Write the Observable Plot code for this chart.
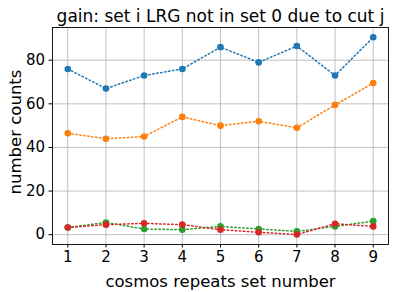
<!DOCTYPE html>
<html>
<head>
<meta charset="utf-8">
<script src="https://cdn.jsdelivr.net/npm/d3@7"></script>
<script src="https://cdn.jsdelivr.net/npm/@observablehq/plot@0.6"></script>
<style>
  html, body { margin: 0; padding: 0; background: #fff; }
  #chart { width: 394px; height: 292px; }
  svg { font-family: "DejaVu Sans", sans-serif; }
</style>
</head>
<body>
<div id="chart"></div>
<script>
const sets = [1, 2, 3, 4, 5, 6, 7, 8, 9];
const yTicks = [0, 20, 40, 60, 80];
const seriesNames = ["cut 1", "cut 2", "cut 3", "cut 4"];
const seriesColors = ["#1f77b4", "#ff7f0e", "#2ca02c", "#d62728"];
const blueValues = [76, 67, 73, 76, 86, 79, 86.5, 73, 90.5];
const orangeValues = [46.5, 44, 45, 54, 50, 52, 49, 59.5, 69.5];
const greenValues = [3.3, 5.6, 2.6, 2.3, 3.8, 2.6, 1.5, 3.8, 6.2];
const redValues = [3.3, 4.6, 5.2, 4.6, 2.3, 1.1, 0.1, 5, 3.8];
const titleText = "gain: set i LRG not in set 0 due to cut j";
const xLabel = "cosmos repeats set number";
const yLabel = "number counts";

const allValues = [blueValues, orangeValues, greenValues, redValues];
const data = allValues.flatMap((vals, k) =>
  vals.map((v, i) => ({ set: sets[i], value: v, series: seriesNames[k] }))
);

const chart = Plot.plot({
  width: 394,
  height: 292,
  marginLeft: 52,
  marginRight: 6,
  marginTop: 27,
  marginBottom: 48,
  style: { fontFamily: "DejaVu Sans, sans-serif", background: "#fff" },
  x: { domain: [0.6, 9.4] },
  y: { domain: [-4.5, 95] },
  color: { domain: seriesNames, range: seriesColors },
  marks: [
    Plot.gridX(sets, { stroke: "#b0b0b0", strokeOpacity: 1, strokeWidth: 0.8 }),
    Plot.gridY(yTicks, { stroke: "#b0b0b0", strokeOpacity: 1, strokeWidth: 0.8 }),
    Plot.axisX(sets, { tickSize: 3.5, tickPadding: 3, fontSize: 15, label: null, stroke: "#000", color: "#000" }),
    Plot.axisY(yTicks, { tickSize: 3.5, tickPadding: 4, fontSize: 15, label: null, stroke: "#000", color: "#000" }),
    Plot.line(data, { x: "set", y: "value", z: "series", stroke: "series", strokeWidth: 1.5, strokeDasharray: "1.5,2.5" }),
    Plot.dot(data, { x: "set", y: "value", fill: "series", r: 3.3 }),
    Plot.frame({ stroke: "#000", strokeWidth: 0.9 }),
    Plot.text([titleText], { frameAnchor: "top", lineAnchor: "middle", dy: -11, fontSize: 17, fill: "#000", text: d => d }),
    Plot.text([xLabel], { frameAnchor: "bottom", lineAnchor: "middle", dy: 37, fontSize: 16.5, fill: "#000", text: d => d }),
    Plot.text([yLabel], { frameAnchor: "left", lineAnchor: "middle", textAnchor: "middle", dx: -37, dy: -4, rotate: -90, fontSize: 16.5, fill: "#000", text: d => d })
  ]
});
document.getElementById("chart").appendChild(chart);
</script>
</body>
</html>
